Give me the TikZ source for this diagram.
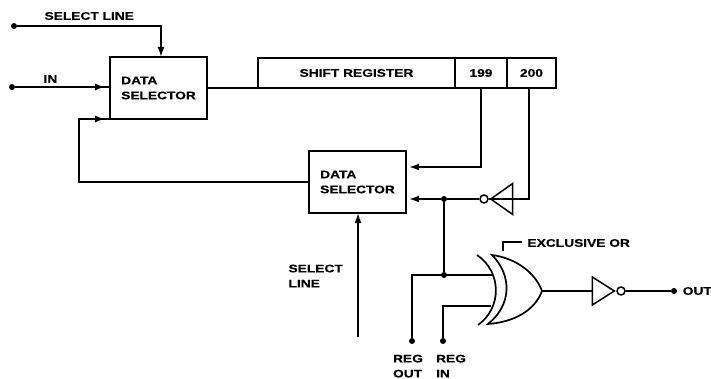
\documentclass[tikz,border=0pt]{standalone}
\usepackage{fontspec}
\setsansfont[FakeStretch=1.25,BoldFeatures={FakeBold=0.5}]{Liberation Sans}
\usepackage{tikz}
\usetikzlibrary{positioning,arrows.meta,decorations.markings,shapes.geometric}

\begin{document}
\begin{tikzpicture}[
  x=1pt, y=-1pt,
  font=\sffamily\bfseries\fontsize{11}{15}\selectfont,
  box/.style={draw, line width=1.7pt, align=left, outer sep=0pt, inner sep=0pt},
  selbox/.style={box, minimum width=97pt, minimum height=62pt},
  cell/.style={box, minimum height=30pt, align=center},
  dot/.style={circle, fill, inner sep=0pt, minimum size=6pt},
  bubble/.style={circle, draw, line width=1.5pt, inner sep=0pt, minimum size=8pt},
  inv/.style={isosceles triangle, isosceles triangle stretches, draw, line width=1.5pt, inner sep=0pt, minimum height=22pt},
  wire/.style={line width=1.7pt},
  arr/.style={wire, -{Latex[length=10pt,width=7pt]}},
  midarr/.style={wire, postaction={decorate}, decoration={markings, mark=at position -5pt with {\arrow{Latex[length=10pt,width=7pt]}}}},
]
\useasboundingbox (0,0) rectangle (711,379);

\node[selbox] (sel1) at (158.5,88) {DATA\\SELECTOR};
\node[selbox] (sel2) at (357.5,182) {DATA\\SELECTOR};
\node[cell, minimum width=197pt] (reg) at (356.5,73) {SHIFT REGISTER};
\node[cell, minimum width=52pt, right=0pt of reg] (r199) {199};
\node[cell, minimum width=49pt, right=0pt of r199] (r200) {200};

\node[dot] (selin) at (14,26) {};
\node[dot] (din) at (12,87) {};
\node[dot] (j1) at (444,199) {};
\node[dot] (j2) at (444,275) {};
\node[dot] (regout) at (412,341) {};
\node[dot] (regin) at (443,341) {};
\node[dot] (outp) at (674,291) {};
\coordinate (sel2in) at (358,337);
\coordinate (xin1) at (493,275);
\coordinate (xin2) at (491,306);
\coordinate (xout) at (542,291);

\node[bubble] (bub1) at (484,199) {};
\node[bubble] (bub2) at (621,291) {};
\node[inv, shape border rotate=180, minimum width=31pt, right=0pt of bub1] (inv1) {};
\node[inv, minimum width=28pt, left=0pt of bub2] (inv2) {};

% exclusive or
\draw[line width=1.7pt] (492,255) .. controls (515,258) and (535,272) .. (xout)
  .. controls (535,310) and (515,322) .. (488,324)
  .. controls (512,305) and (512,275) .. cycle;
\draw[line width=1.7pt] (477,255) .. controls (502,272) and (502,308) .. (478,325);
\draw[line width=1.4pt] (503,251) -- (503,242) -- (522,242);

\node[anchor=west] (sl1) at (41,16) {SELECT LINE};
\node[anchor=west] (inl) at (40,79) {IN};
\node[anchor=west, align=left] (sl2) at (285,276) {SELECT\\LINE};
\node[anchor=west] (xorl) at (524,243) {EXCLUSIVE OR};
\node[below=7pt of regout, align=left, xshift=-4pt] (rol) {REG\\OUT};
\node[below=7pt of regin, align=left, xshift=8pt] (ril) {REG\\IN};
\node[right=2pt of outp] (outl) {OUT};

\draw[arr] (selin) -| ([xshift=2.5pt]sel1.north);
\draw[midarr] (din) -- (din -| sel1.west);
\draw[wire] (sel1.east) -- (sel1.east -| reg.west);
\draw[midarr] (sel2.west) -- ++(-230,0) |- (sel1.south west);
\draw[arr, shorten >=3pt] (r199.south) |- ([yshift=15pt]sel2.east);
\draw[wire] ([xshift=-2.5pt]r200.south) |- (inv1.west);
\draw[wire] (bub1) -- (j1);
\draw[arr, shorten >=3pt] (j1) -- (j1 -| sel2.east);
\draw[arr] (sel2in) -- (sel2in |- sel2.south);
\draw[wire] (j1) -- (j2);
\draw[wire] (regout) |- (xin1);
\draw[wire] (regin) |- (xin2);
\draw[wire] (xout) -- (inv2.west);
\draw[wire] (bub2) -- (outp);
\end{tikzpicture}
\end{document}
